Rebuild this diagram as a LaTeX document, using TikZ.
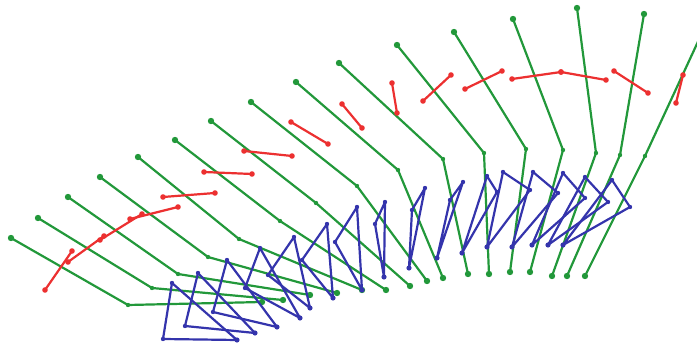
\documentclass[tikz,border=0pt]{standalone}
\usepackage{tikz}
\definecolor{legcol}{RGB}{34,152,58}
\definecolor{markcol}{RGB}{236,48,48}
\definecolor{footcol}{RGB}{52,52,172}

\begin{document}
\begin{tikzpicture}[x=1pt, y=-1pt, line width=2.2pt, line join=round, line cap=round,
  leg/.style={draw=legcol},
  marker/.style={draw=markcol},
  foot/.style={draw=footcol}]
  \useasboundingbox (0,0) rectangle (697,344);
  \clip (0,0) rectangle (697,344);

  % legs: hip, knee, ankle
  \foreach \hx/\hy/\kx/\ky/\ax/\ay in {11/238/128/305/262/302, 38/218/152/288/283/300,
      68/197/178/274/310/295, 100/177/208/257/337/293, 138/157/239/239/362/290,
      175/140/280/221/386/290, 211/121/316/203/410/286, 251/102/357/186/427/281,
      296/82/398/170/443/278, 339/63/443/159/468/274, 397/45/484/153/489/274,
      454/32/526/149/510/272, 513/19/563/150/530/272, 577/8/596/153/552/276,
      644/14/620/155/567/276, 702/33/645/156/585/276}{
    \draw[leg] (\hx,\hy) -- (\kx,\ky) -- (\ax,\ay);
    \fill[legcol] (\hx,\hy) circle (3.2pt) (\kx,\ky) circle (2.2pt) (\ax,\ay) circle (3.2pt);
  }

  % feet
  \foreach \px/\py/\qx/\qy/\rx/\ry in {172/283/163/339/237/340, 198/273/185/326/255/333,
      227/260/213/312/277/327, 260/248/245/288/300/318, 294/237/268/275/310/308,
      327/224/302/260/333/298, 357/207/335/242/362/290, 385/202/375/224/384/277,
      425/188/412/210/409/268, 463/182/450/200/437/258, 487/176/497/192/462/253,
      503/172/530/190/487/247, 533/172/558/193/512/247, 563/173/585/198/532/245,
      585/177/608/202/548/245, 612/180/630/207/563/245}{
    \draw[foot] (\px,\py) -- (\qx,\qy) -- (\rx,\ry) -- cycle;
    \fill[footcol] (\px,\py) circle (2.2pt) (\qx,\qy) circle (2.2pt) (\rx,\ry) circle (2.6pt);
  }

  % markers
  \foreach \sx/\sy/\ex/\ey in {45/290/72/251, 68/262/104/236, 100/240/142/214,
      130/219/178/207, 163/197/215/193, 204/172/252/174, 244/151/292/156,
      291/122/328/144, 342/104/362/128, 392/83/397/113, 423/101/451/75,
      465/89/502/71, 512/79/561/72, 561/72/606/80, 614/71/648/93, 683/75/676/103}{
    \draw[marker] (\sx,\sy) -- (\ex,\ey);
    \fill[markcol] (\sx,\sy) circle (2.8pt) (\ex,\ey) circle (2.8pt);
  }
\end{tikzpicture}
\end{document}
